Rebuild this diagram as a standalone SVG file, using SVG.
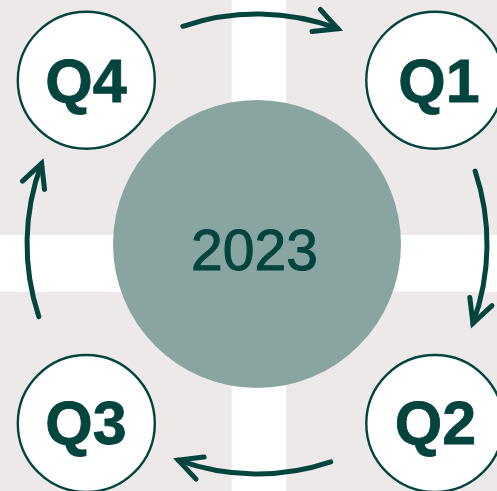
<svg xmlns="http://www.w3.org/2000/svg" width="497" height="491" viewBox="0 0 497 491">
<style>
.bg{fill:#EDE9E8}
.q circle{fill:#FFFFFF;stroke:#03443F;stroke-width:2.4}
.q text{font-family:"Liberation Sans",Arial,sans-serif;font-weight:bold;font-size:61px;fill:#03443F;stroke:#03443F;stroke-width:0.8;text-anchor:middle}
.arc{fill:none;stroke:#03443F;stroke-width:5;stroke-linecap:round;marker-end:url(#head)}
.year{font-family:"Liberation Sans",Arial,sans-serif;font-size:57px;fill:#03443F;stroke:#03443F;stroke-width:1;text-anchor:middle}
</style>
<defs>
<marker id="head" markerUnits="userSpaceOnUse" markerWidth="40" markerHeight="40" viewBox="-30 -20 40 40" refX="0" refY="0" orient="auto" overflow="visible">
<path d="M-23.2 -11.8 L0 0 L-23.2 11.8" fill="none" stroke="#03443F" stroke-width="5" stroke-linecap="round" stroke-linejoin="miter"/>
</marker>
</defs>
<rect x="0" y="0" width="497" height="491" fill="#FFFFFF"/>
<g id="background">
<rect class="bg" x="0" y="0" width="231.7" height="235"/>
<rect class="bg" x="286.3" y="0" width="210.7" height="235"/>
<rect class="bg" x="0" y="291.7" width="231.7" height="199.3"/>
<rect class="bg" x="286.3" y="291.7" width="210.7" height="199.3"/>
</g>
<g id="center">
<circle cx="257" cy="244" r="144" fill="#88A5A2"/>
<text class="year" x="254.5" y="270">2023</text>
</g>
<g id="connectors">
<path class="arc" d="M182.9 26.3 A230 230 0 0 1 337.9 28.7"/>
<path class="arc" d="M475.1 171 A230 230 0 0 1 472.9 323.4"/>
<path class="arc" d="M330.7 461.9 A230 230 0 0 1 178.3 460.1"/>
<path class="arc" d="M38.8 316.6 A230 230 0 0 1 41.6 163.5"/>
</g>
<g id="q4" class="q">
<circle cx="86.3" cy="80.2" r="68.5"/>
<text x="86" y="102">Q4</text>
</g>
<g id="q1" class="q">
<circle cx="434.8" cy="80.2" r="68.5"/>
<text x="439" y="102">Q1</text>
</g>
<g id="q3" class="q">
<circle cx="86.3" cy="423.5" r="68.5"/>
<text x="86" y="444.3">Q3</text>
</g>
<g id="q2" class="q">
<circle cx="434.8" cy="423.5" r="68.5"/>
<text x="435.5" y="444.3">Q2</text>
</g>
</svg>
